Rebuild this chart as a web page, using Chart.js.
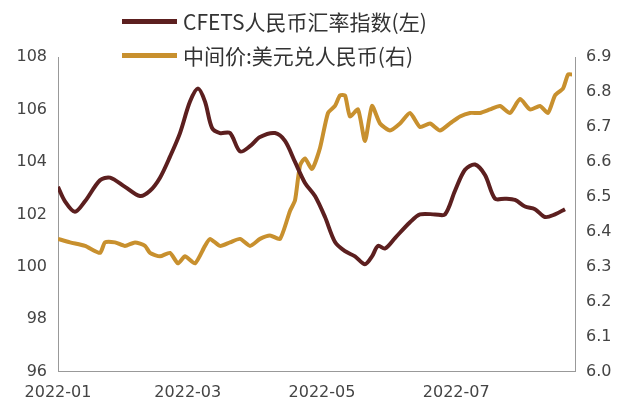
<!DOCTYPE html>
<html><head><meta charset="utf-8">
<script src="https://cdn.jsdelivr.net/npm/chart.js@4"></script>
<style>
body{margin:0;background:#fff;font-family:"Noto Sans CJK SC","Noto Sans",sans-serif}
#wrap{position:relative;width:642px;height:415px}
.lg{position:absolute;left:122px;font-size:21px;color:#333;display:flex;align-items:center}
.lg span{display:inline-block;width:55px;height:5px;margin-right:6px}
</style></head>
<body><div id="wrap"><canvas id="chart" width="642" height="415"></canvas>
<div class="lg" style="top:6px"><span style="background:#5c1f1f"></span>CFETS人民币汇率指数(左)</div>
<div class="lg" style="top:40px"><span style="background:#c8902e"></span>中间价:美元兑人民币(右)</div>
</div>
<script>
"use strict";
// x = days since 2022-01-01
const tickDays = [0, 59, 120, 181];
const tickLabels = ["2022-01", "2022-03", "2022-05", "2022-07"];
const cfetsX = [58,65,75,85,100,110,125,140,150,160,170,180,190,198,205,212,220,230,240,250,260,275,285,295,305,315,325,335,345,355,365,372,378,385,395,410,420,435,445,455,465,475,485,495,505,515,525,535,545,555,565];
const cfetsY = [103.05,102.5,102.1,102.5,103.3,103.4,103.05,102.7,102.9,103.4,104.2,105.1,106.3,106.8,106.3,105.3,105.1,105.1,104.4,104.6,104.95,105.1,104.8,104.0,103.2,102.7,101.9,100.95,100.6,100.4,100.1,100.4,100.8,100.7,101.1,101.7,102.0,102.0,102.0,102.9,103.7,103.9,103.5,102.6,102.6,102.55,102.3,102.2,101.9,102.0,102.2];
const usdX = [58,70,85,100,105,115,125,135,145,150,160,170,178,185,195,205,210,220,230,240,250,260,270,280,290,295,300,305,312,320,328,335,340,345,350,358,365,372,380,390,400,410,420,430,440,450,460,470,480,490,500,510,520,530,540,548,555,563,568,572];
const usdY = [6.38,6.37,6.36,6.34,6.37,6.37,6.36,6.37,6.36,6.34,6.33,6.34,6.31,6.33,6.31,6.36,6.38,6.36,6.37,6.38,6.36,6.38,6.39,6.38,6.46,6.49,6.59,6.61,6.58,6.64,6.74,6.76,6.79,6.79,6.73,6.75,6.66,6.76,6.71,6.69,6.71,6.74,6.70,6.71,6.69,6.71,6.73,6.74,6.74,6.75,6.76,6.74,6.78,6.75,6.76,6.74,6.79,6.81,6.85,6.85];
const toDay = x => (x - 58) / 2.2;
const pts = (xs, ys) => xs.map((x, i) => ({ x: toDay(x), y: ys[i] }));
const tickFont = { family: "DejaVu Sans", size: 16 };
new Chart(document.getElementById("chart"), {
    type: "line",
    data: {
        datasets: [{
            data: pts(cfetsX, cfetsY), yAxisID: "y",
            borderColor: "#5c1f1f", borderWidth: 4, tension: 0.3
        }, {
            data: pts(usdX, usdY), yAxisID: "y1",
            borderColor: "#c8902e", borderWidth: 4, tension: 0.2
        }]
    },
    options: {
        responsive: false, animation: false,
        layout: { padding: { top: 57, bottom: 10, left: 0, right: 0 } },
        plugins: { legend: { display: false }, tooltip: { enabled: false } },
        elements: { point: { radius: 0 } },
        scales: {
            x: {
                type: "linear", min: 0, max: 235,
                afterBuildTicks: a => a.ticks = tickDays.map(v => ({ value: v })),
                ticks: { autoSkip: false, maxRotation: 0, color: "#444", font: tickFont,
                    callback: v => tickLabels[tickDays.indexOf(v)] },
                grid: { display: false, drawTicks: true },
                border: { color: "#999", width: 1 }
            },
            y: {
                position: "left", min: 96, max: 108,
                afterFit: a => a.width = 58,
                ticks: { stepSize: 2, color: "#444", font: tickFont },
                grid: { display: false },
                border: { color: "#999" }
            },
            y1: {
                position: "right", min: 6.0, max: 6.9,
                afterFit: a => a.width = 67,
                ticks: { stepSize: 0.1, color: "#444", font: tickFont, callback: v => v.toFixed(1) },
                grid: { display: false },
                border: { color: "#999" }
            }
        }
    }
});
</script></body></html>
